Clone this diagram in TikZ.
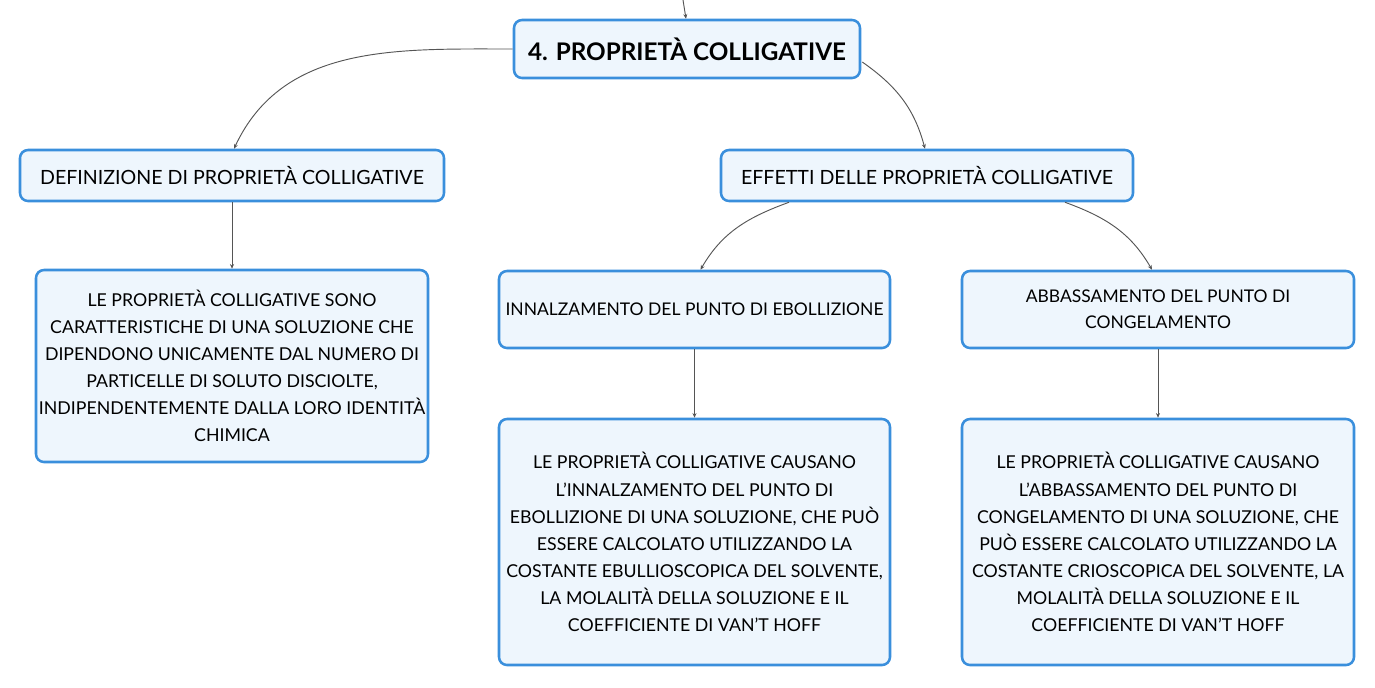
\documentclass[tikz,border=0pt]{standalone}
\usepackage{fontspec}
\setmainfont{Lato}
\usetikzlibrary{calc}
\usetikzlibrary{arrows.meta}

\definecolor{boxline}{HTML}{3A8FDC}
\definecolor{boxfill}{HTML}{EEF6FD}
\definecolor{wire}{HTML}{555555}

\begin{document}
\begin{tikzpicture}[x=0.75pt, y=0.75pt,
  topic/.style={draw=boxline, fill=boxfill, line width=1.9pt, rounded corners=6pt,
    align=center, inner sep=0pt, font=\fontsize{13.3}{20.3}\selectfont},
  title/.style={font=\fontsize{14.7}{19.5}\selectfont},
  subtitle/.style={font=\fontsize{13.1}{19.5}\selectfont},
  wirearrow/.style={draw=wire, line width=0.7pt, -{Stealth[length=3.5pt, width=3pt]}}]%
  \useasboundingbox (0,0) rectangle (1375,-687);
  % boxes
  \node[topic, minimum width=259.5pt, minimum height=43.5pt, font=\bfseries\fontsize{18.2}{20}\selectfont]
    (root) at (687,-49) {4. PROPRIETÀ COLLIGATIVE};
  \node[topic, title, minimum width=318pt, minimum height=38.25pt] (def) at (232,-175.5)
    {DEFINIZIONE DI PROPRIETÀ COLLIGATIVE};
  \node[topic, minimum width=294pt, minimum height=144pt] (deftext) at (232,-366)
    {LE PROPRIETÀ COLLIGATIVE SONO\\
     CARATTERISTICHE DI UNA SOLUZIONE CHE\\
     DIPENDONO UNICAMENTE DAL NUMERO DI\\
     PARTICELLE DI SOLUTO DISCIOLTE,\\
     INDIPENDENTEMENTE DALLA LORO IDENTITÀ\\
     CHIMICA};
  \node[topic, title, minimum width=309pt, minimum height=38.25pt] (eff) at (927,-175.5)
    {EFFETTI DELLE PROPRIETÀ COLLIGATIVE};
  \node[topic, subtitle, minimum width=293.25pt, minimum height=57.75pt]
    (inn) at (694.5,-309.5) {INNALZAMENTO DEL PUNTO DI EBOLLIZIONE};
  \node[topic, subtitle, minimum width=294pt, minimum height=57.75pt] (abb) at (1158,-309.5)
    {ABBASSAMENTO DEL PUNTO DI\\CONGELAMENTO};
  \node[topic, minimum width=293.25pt, minimum height=184.5pt] (inntext) at (694.5,-542)
    {LE PROPRIETÀ COLLIGATIVE CAUSANO\\
     L'INNALZAMENTO DEL PUNTO DI\\
     EBOLLIZIONE DI UNA SOLUZIONE, CHE PUÒ\\
     ESSERE CALCOLATO UTILIZZANDO LA\\
     COSTANTE EBULLIOSCOPICA DEL SOLVENTE,\\
     LA MOLALITÀ DELLA SOLUZIONE E IL\\
     COEFFICIENTE DI VAN'T HOFF};
  \node[topic, minimum width=294pt, minimum height=184.5pt] (abbtext) at (1158,-542)
    {LE PROPRIETÀ COLLIGATIVE CAUSANO\\
     L'ABBASSAMENTO DEL PUNTO DI\\
     CONGELAMENTO DI UNA SOLUZIONE, CHE\\
     PUÒ ESSERE CALCOLATO UTILIZZANDO LA\\
     COSTANTE CRIOSCOPICA DEL SOLVENTE, LA\\
     MOLALITÀ DELLA SOLUZIONE E IL\\
     COEFFICIENTE DI VAN'T HOFF};
  % connectors
  \coordinate (parent) at (683,0);
  \draw[wirearrow] (parent) -- ($(root.north)+(-1,0)$);
  \draw[wirearrow] (root.west) to[out=180, in=65] ($(def.north)+(2,0)$);
  \draw[wirearrow] ($(root.east)+(1,-13)$) to[out=-35, in=105] ($(eff.north)+(-2,0)$);
  \draw[wirearrow] (def.south) -- (deftext.north);
  \draw[wirearrow] ($(eff.south)+(-138,0)$) to[out=200, in=60] ($(inn.north)+(6,0)$);
  \draw[wirearrow] ($(eff.south)+(138,0)$) to[out=-20, in=120] ($(abb.north)+(-6,0)$);
  \draw[wirearrow] (inn.south) -- (inntext.north);
  \draw[wirearrow] (abb.south) -- (abbtext.north);
\end{tikzpicture}
\end{document}
